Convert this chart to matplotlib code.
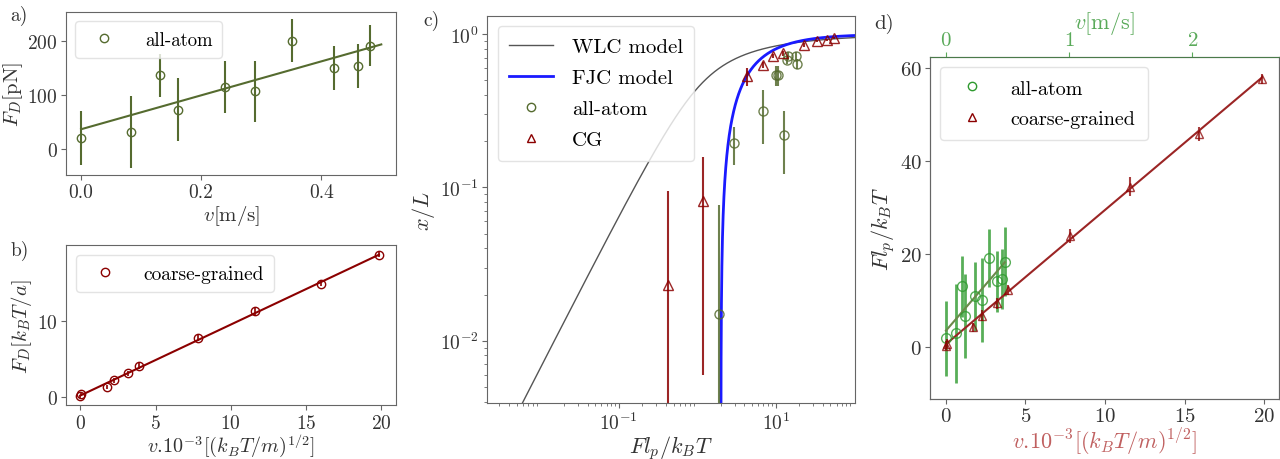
import numpy as np
import matplotlib
matplotlib.use('Agg')
import matplotlib.pyplot as plt
from matplotlib.lines import Line2D

plt.rcParams['font.family'] = 'serif'
plt.rcParams['font.serif'] = ['cmr10', 'DejaVu Serif']
plt.rcParams['mathtext.fontset'] = 'cm'
plt.rcParams['axes.formatter.use_mathtext'] = True
plt.rcParams['axes.unicode_minus'] = False
plt.rcParams['axes.edgecolor'] = '#666666'
plt.rcParams['xtick.color'] = '#666666'
plt.rcParams['ytick.color'] = '#666666'
plt.rcParams['xtick.labelcolor'] = '#333333'
plt.rcParams['ytick.labelcolor'] = '#333333'
plt.rcParams['axes.labelcolor'] = '#333333'
plt.rcParams['legend.edgecolor'] = '#dddddd'
plt.rcParams['xtick.major.pad'] = 2.5
plt.rcParams['ytick.major.pad'] = 2.5

# ---------------------------------------------------------------- data
# a) all-atom drag force vs velocity
aa_v = [0.0, 0.083, 0.131, 0.161, 0.24, 0.29, 0.351, 0.421, 0.461, 0.481]
aa_FD = [20, 31, 136, 72, 115, 106, 200, 149, 153, 191]
aa_FD_err = [50, 67, 40, 58, 48, 57, 40, 41, 41, 38]
aa_fit_v = [0.0, 0.5]
aa_fit_FD = [36, 193]

# b) coarse-grained drag force vs velocity
cg_v = [0.0, 0.05, 1.76, 2.27, 3.2, 3.87, 7.85, 11.6, 16.0, 19.85]
cg_FD = [0.1, 0.35, 1.37, 2.2, 3.1, 4.06, 7.78, 11.28, 14.9, 18.7]
cg_FD_err = [0.2, 0.2, 0.25, 0.3, 0.3, 0.35, 0.4, 0.5, 0.3, 0.3]
cg_fit_v = [0.0, 19.85]
cg_fit_FD = [0.2, 18.7]

# c) extension vs reduced force
c_aa_f = [1.89, 2.97, 6.84, 10.0, 10.8, 12.9, 13.9, 14.5, 18.1, 18.6]
c_aa_x = [0.0149, 0.194, 0.313, 0.54, 0.54, 0.22, 0.68, 0.72, 0.72, 0.64]
c_aa_err = [0.062, 0.054, 0.12, 0.08, 0.08, 0.097, 0.04, 0.04, 0.04, 0.05]
c_cg_f = [0.43, 1.17, 4.27, 6.85, 9.3, 12.3, 23.3, 33.5, 45.0, 56.0]
c_cg_x = [0.023, 0.082, 0.53, 0.63, 0.72, 0.75, 0.85, 0.90, 0.92, 0.94]
c_cg_err = [0.072, 0.076, 0.07, 0.03, 0.025, 0.025, 0.02, 0.015, 0.015, 0.015]

# d) reduced force vs reduced velocity
d_aa_v = [0.0, 0.61, 1.0, 1.22, 1.84, 2.24, 2.70, 3.23, 3.54, 3.69]
d_aa_f = [1.94, 3.0, 13.1, 6.8, 11.0, 10.2, 19.2, 14.2, 14.7, 18.4]
d_aa_err = [8.0, 10.7, 6.5, 9.0, 7.4, 9.0, 6.3, 6.6, 6.5, 7.4]
d_aa_fit_v = [0.0, 3.7]
d_aa_fit_f = [3.6, 18.3]
d_cg_v = [0.0, 0.05, 1.72, 2.24, 3.19, 3.88, 7.8, 11.6, 15.9, 19.85]
d_cg_f = [0.4, 0.8, 4.3, 6.8, 9.5, 12.3, 23.9, 34.6, 45.9, 57.7]
d_cg_err = [1.0, 1.0, 1.0, 1.2, 1.2, 1.1, 1.5, 2.0, 1.5, 1.0]
d_cg_fit_v = [0.0, 19.85]
d_cg_fit_f = [0.7, 58.0]
v_per_unit = 7.74   # reduced velocity units per m/s (top axis of d)

olive = '#556b2f'
dred = '#8b0000'
green = '#2e9a2e'
vel_label = r'$v.\!10^{-3}[(k_BT/m)^{1/2}]$'


def marker_handle(marker, color, ms=6):
    return Line2D([], [], ls='none', marker=marker, mfc='none', mec=color, ms=ms)


fig = plt.figure(figsize=(12.8, 4.6), dpi=100)

# ---------------------------------------------------------------- a)
ax_a = fig.add_axes([0.0516, 0.617, 0.258, 0.3547])
ax_a.errorbar(aa_v, aa_FD, yerr=aa_FD_err, fmt='o', mfc='none', mec=olive,
              ecolor=olive, ms=6, elinewidth=1.5)
ax_a.plot(aa_fit_v, aa_fit_FD, color=olive, lw=1.5)
ax_a.set_xlim(-0.025, 0.525)
ax_a.set_ylim(-49, 253)
ax_a.set_xticks([0.0, 0.2, 0.4])
ax_a.set_xticklabels(['0.0', '0.2', '0.4'])
ax_a.set_yticks([0, 100, 200])
ax_a.tick_params(labelsize=14)
ax_a.set_xlabel(r'$v$[m/s]', fontsize=15, labelpad=1)
ax_a.set_ylabel(r'$F_D$[pN]', fontsize=15, labelpad=2)
ax_a.legend([marker_handle('o', olive)], ['all-atom'], loc='upper left',
            fontsize=13.5, handletextpad=1.2, borderpad=0.5)

# ---------------------------------------------------------------- b)
ax_b = fig.add_axes([0.0516, 0.117, 0.258, 0.348])
ax_b.errorbar(cg_v, cg_FD, yerr=cg_FD_err, fmt='o', mfc='none', mec=dred,
              ecolor=dred, ms=6, elinewidth=1.2)
ax_b.plot(cg_fit_v, cg_fit_FD, color=dred, lw=1.5)
ax_b.set_xlim(-0.95, 21.0)
ax_b.set_ylim(-1.07, 19.96)
ax_b.set_xticks([0, 5, 10, 15, 20])
ax_b.set_yticks([0, 10])
ax_b.tick_params(labelsize=14)
ax_b.set_xlabel(vel_label, fontsize=14.5, labelpad=0)
ax_b.set_ylabel(r'$F_D[k_BT/a]$', fontsize=15, labelpad=2)
ax_b.legend([marker_handle('o', dred)], ['coarse-grained'], loc='upper left',
            fontsize=14, handletextpad=1.0, borderpad=0.5)

# ---------------------------------------------------------------- c)
ax_c = fig.add_axes([0.3807, 0.1211, 0.2873, 0.8426])
ext = np.linspace(0.0001, 0.985, 600)
wlc_f = 1.0 / (4 * (1 - ext) ** 2) - 0.25 + ext
ax_c.plot(wlc_f, ext, color='#555555', lw=1.0)
ext2 = np.linspace(0.001, 0.99, 600)
fjc_f = 2.0 / (1 - ext2)
ax_c.plot(fjc_f, ext2, color='#1a1aff', lw=2.0)
ax_c.errorbar(c_aa_f, c_aa_x, yerr=c_aa_err, fmt='o', mfc='none', mec=olive,
              ecolor=olive, ms=6.5, elinewidth=1.5, alpha=0.85)
ax_c.errorbar(c_cg_f, c_cg_x, yerr=c_cg_err, fmt='^', mfc='none', mec=dred,
              ecolor=dred, ms=6.5, elinewidth=1.5, alpha=0.85)
ax_c.set_xscale('log')
ax_c.set_yscale('log')
ax_c.set_xlim(0.0021, 103)
ax_c.set_ylim(0.0039, 1.32)
ax_c.set_xticks([0.1, 10])
ax_c.set_xlabel(r'$Fl_p/k_BT$', fontsize=16, labelpad=0)
ax_c.set_ylabel(r'$x/L$', fontsize=16, labelpad=2)
ax_c.tick_params(labelsize=14)
handles_c = [Line2D([], [], color='#555555', lw=1.0),
             Line2D([], [], color='#1a1aff', lw=2.0),
             marker_handle('o', olive), marker_handle('^', dred)]
ax_c.legend(handles_c, ['WLC model', 'FJC model', 'all-atom', 'CG'],
            loc='upper left', fontsize=15, handlelength=2.1, handletextpad=0.9,
            labelspacing=0.6, borderpad=0.55)

# ---------------------------------------------------------------- d)
ax_d = fig.add_axes([0.7266, 0.1304, 0.2729, 0.7429])
ax_d.errorbar(d_aa_v, d_aa_f, yerr=d_aa_err, fmt='o', mfc='none', mec=green,
              ecolor=green, ms=7, elinewidth=2.0, alpha=0.8)
ax_d.plot(d_aa_fit_v, d_aa_fit_f, color='#6b8a4a', lw=1.5)
ax_d.errorbar(d_cg_v, d_cg_f, yerr=d_cg_err, fmt='^', mfc='none', mec=dred,
              ecolor=dred, ms=6, elinewidth=1.5, alpha=0.75)
ax_d.plot(d_cg_fit_v, d_cg_fit_f, color='#9b2525', lw=1.5)
ax_d.set_xlim(-1.0, 20.96)
ax_d.set_ylim(-11.1, 62.4)
ax_d.set_xticks([0, 5, 10, 15, 20])
ax_d.set_yticks([0, 20, 40, 60])
ax_d.tick_params(labelsize=15)
ax_d.set_xlabel(vel_label, fontsize=16, color='#c06060', labelpad=0)
ax_d.set_ylabel(r'$Fl_p/k_BT$', fontsize=16, labelpad=2)
ax_d.legend([marker_handle('o', green), marker_handle('^', dred)],
            ['all-atom', 'coarse-grained'], loc='upper left', fontsize=14.5,
            handletextpad=0.9, borderpad=0.6, labelspacing=0.6)

ax_top = ax_d.twiny()
ax_top.set_xlim(-1.0 / v_per_unit, 20.96 / v_per_unit)
ax_top.set_xticks([0, 1, 2])
ax_top.tick_params(axis='x', colors='#5aaa5a', labelcolor='#5aaa5a',
                   labelsize=15)
ax_top.set_xlabel(r'$v$[m/s]', fontsize=16, color='#5aaa5a', labelpad=2)
ax_top.spines['top'].set_color('#4a7a4a')

# panel labels
fig.text(0.008, 0.965, 'a)', fontsize=14, color='#333333', va='center')
fig.text(0.008, 0.455, 'b)', fontsize=14, color='#333333', va='center')
fig.text(0.331, 0.955, 'c)', fontsize=14, color='#333333', va='center')
fig.text(0.683, 0.948, 'd)', fontsize=15, color='#333333', va='center')

fig.savefig('out.png', dpi=100)
